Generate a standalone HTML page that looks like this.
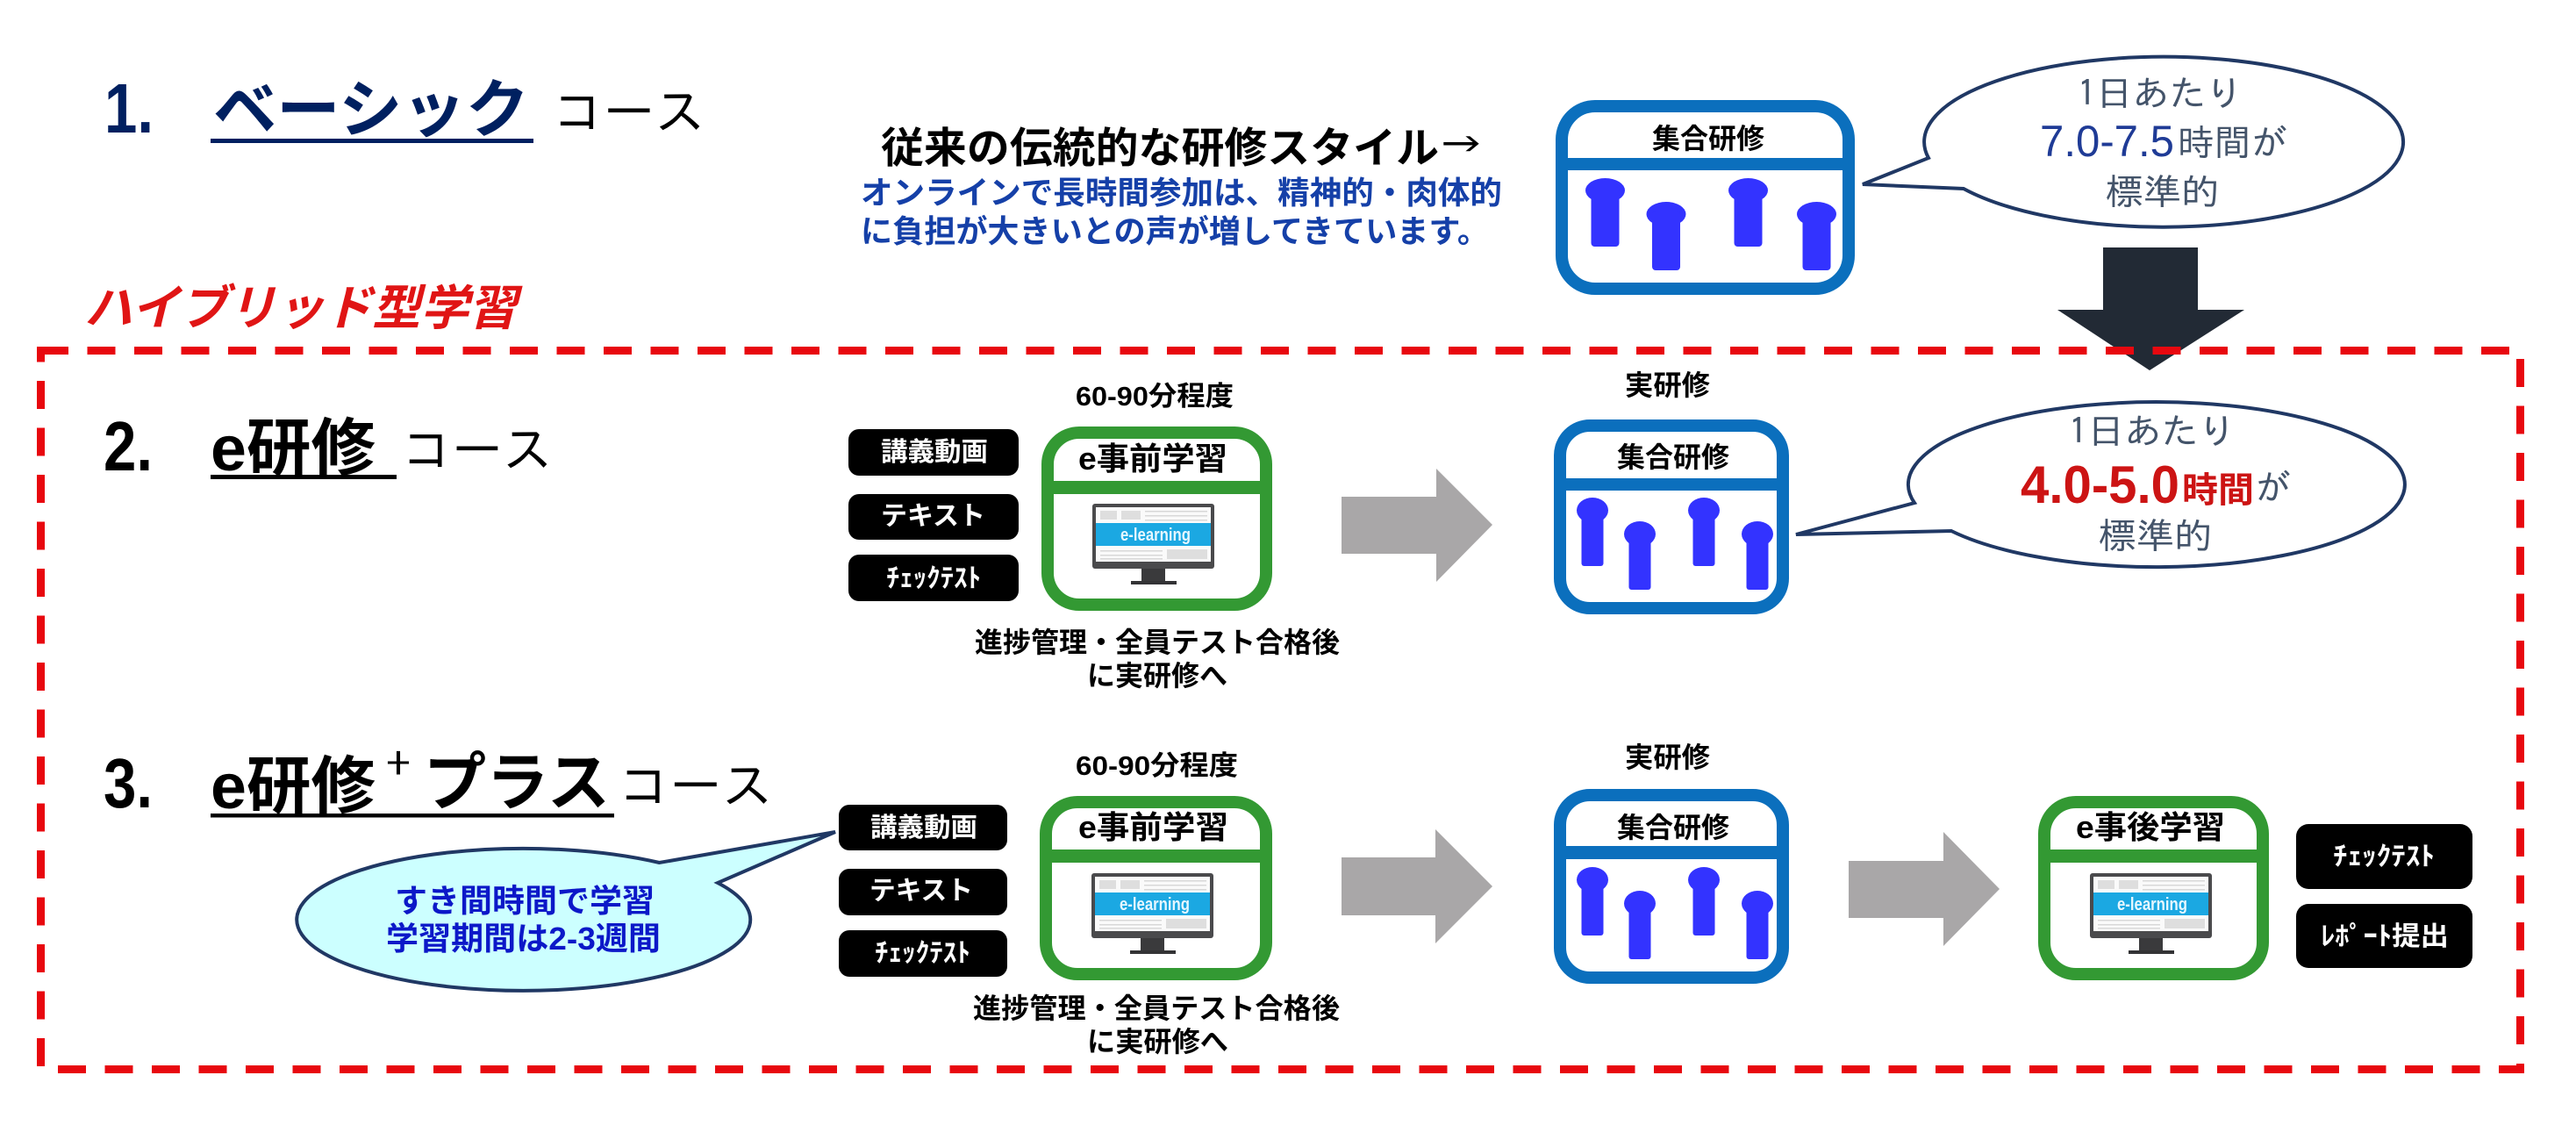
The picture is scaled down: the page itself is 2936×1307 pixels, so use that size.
<!DOCTYPE html>
<html lang="ja">
<head>
<meta charset="utf-8">
<title>コース</title>
<style>
html,body{margin:0;padding:0;background:#fff;width:2936px;height:1307px;overflow:hidden}
svg{display:block}
text{font-family:"Liberation Sans","Noto Sans CJK JP",sans-serif;font-weight:700;white-space:pre}
.thin{font-family:"IPAGothic","Noto Sans CJK JP",sans-serif;font-weight:400}
.lat{font-family:"Liberation Sans",sans-serif;font-weight:400}
.w{fill:#fff}
</style>
</head>
<body>
<svg xmlns="http://www.w3.org/2000/svg" width="2936" height="1307" viewBox="0 0 2936 1307">
<defs>
<g id="p1"><ellipse cx="22.500" cy="14" rx="22.500" ry="14" fill="#3333ff"/><rect x="6.500" y="10" width="32" height="68" rx="4" fill="#3333ff"/></g>
<g id="p2"><ellipse cx="18" cy="14.500" rx="18" ry="14.500" fill="#3333ff"/><rect x="5.500" y="10" width="25" height="68" rx="3" fill="#3333ff"/></g>
<g id="mon">
<rect x="0" y="0" width="139" height="74" rx="3" fill="#4a4a4c"/>
<rect x="4" y="4" width="131" height="62" fill="#fafafa"/>
<rect x="9" y="8" width="19" height="10" fill="#dedede"/><rect x="33" y="8" width="22" height="10" fill="#dedede"/>
<rect x="60" y="8" width="71" height="1.500" fill="#d8d8d8"/><rect x="60" y="13" width="71" height="1.500" fill="#d8d8d8"/><rect x="60" y="18" width="71" height="1.500" fill="#d8d8d8"/>
<rect x="4" y="22" width="131" height="26" fill="#1ba8e2"/>
<rect x="9" y="53" width="71" height="1.500" fill="#d8d8d8"/><rect x="9" y="58" width="71" height="1.500" fill="#d8d8d8"/><rect x="9" y="62" width="71" height="1.500" fill="#d8d8d8"/>
<rect x="85" y="52" width="46" height="11" fill="#dedede"/>
<rect x="56" y="74" width="27" height="14" fill="#3a3a3c"/><rect x="44" y="88" width="52" height="4" fill="#333335"/>
</g>
</defs>

<!-- headings -->
<text x="119" y="151" font-size="80" fill="#002060" textLength="56" lengthAdjust="spacingAndGlyphs">1.</text>
<text x="243" y="150" font-size="72" fill="#002060" textLength="360" lengthAdjust="spacingAndGlyphs">ベーシック</text>
<rect x="240" y="158" width="368" height="5" fill="#002060"/>
<text class="thin" x="630" y="148" font-size="58" fill="#000" textLength="174" lengthAdjust="spacingAndGlyphs">コース</text>

<text x="96" y="370" font-size="55" font-style="italic" fill="#e01515" textLength="493" lengthAdjust="spacingAndGlyphs">ハイブリッド型学習</text>

<text x="118" y="536" font-size="80" fill="#000" textLength="56" lengthAdjust="spacingAndGlyphs">2.</text>
<text x="240" y="536" font-size="72" fill="#000" textLength="188" lengthAdjust="spacingAndGlyphs">e研修</text>
<rect x="240" y="541" width="212" height="5" fill="#000"/>
<text class="thin" x="458" y="533" font-size="58" fill="#000" textLength="172" lengthAdjust="spacingAndGlyphs">コース</text>

<text x="118" y="920" font-size="80" fill="#000" textLength="56" lengthAdjust="spacingAndGlyphs">3.</text>
<text x="240" y="921" font-size="72" fill="#000" textLength="188" lengthAdjust="spacingAndGlyphs">e研修</text>
<text class="thin" x="439" y="886" font-size="44" fill="#000" textLength="30" lengthAdjust="spacingAndGlyphs">+</text>
<text x="483" y="917" font-size="72" fill="#000" textLength="212" lengthAdjust="spacingAndGlyphs">プラス</text>
<rect x="240" y="927" width="460" height="4.500" fill="#000"/>
<text class="thin" x="705" y="916" font-size="58" fill="#000" textLength="176" lengthAdjust="spacingAndGlyphs">コース</text>

<!-- intro text -->
<text x="1004" y="185" font-size="48" fill="#000" textLength="636" lengthAdjust="spacingAndGlyphs">従来の伝統的な研修スタイル</text>
<text class="thin" x="1642" y="182" font-size="48" fill="#000" textLength="46" lengthAdjust="spacingAndGlyphs">→</text>
<text x="981" y="232" font-size="36" fill="#1540a8" textLength="731" lengthAdjust="spacingAndGlyphs">オンラインで長時間参加は、精神的・肉体的</text>
<text x="981" y="276" font-size="36" fill="#1540a8" textLength="716" lengthAdjust="spacingAndGlyphs">に負担が大きいとの声が増してきています。</text>

<!-- Box 1 -->
<rect x="1780" y="121" width="327" height="208" rx="38" fill="#fff" stroke="#0b6fbd" stroke-width="14"/>
<rect x="1773" y="180" width="341" height="14" fill="#0b6fbd"/>
<text x="1883" y="169" font-size="32" fill="#000" textLength="128" lengthAdjust="spacingAndGlyphs">集合研修</text>
<use href="#p1" x="1807" y="203"/><use href="#p1" x="1970" y="203"/>
<use href="#p1" x="1876.500" y="230"/><use href="#p1" x="2048" y="230"/>

<!-- Bubble 1 -->
<path d="M2198,180 A273,97 0 1 1 2238,215 L2123,210 Z" fill="#fff" stroke="#203864" stroke-width="4" stroke-linejoin="miter"/>
<text class="thin" x="2368" y="121" font-size="41" fill="#44546a" textLength="188" lengthAdjust="spacingAndGlyphs">1日あたり</text>
<text class="lat" x="2325" y="178" font-size="50" fill="#1f3b96" textLength="153" lengthAdjust="spacingAndGlyphs">7.0-7.5</text>
<text class="thin" x="2482" y="177" font-size="41" fill="#44546a" textLength="125" lengthAdjust="spacingAndGlyphs">時間が</text>
<text class="thin" x="2400" y="233" font-size="41" fill="#44546a" textLength="129" lengthAdjust="spacingAndGlyphs">標準的</text>

<!-- Down arrow -->
<path d="M2397,282 H2505 V353 H2558 L2450,422 L2345,353 H2397 Z" fill="#222a35"/>

<!-- Row 2 -->
<text x="1226" y="462" font-size="31" fill="#000" textLength="180" lengthAdjust="spacingAndGlyphs">60-90分程度</text>
<rect x="967" y="489" width="194" height="53" rx="12" fill="#000"/>
<rect x="967" y="563" width="194" height="52" rx="12" fill="#000"/>
<rect x="967" y="632" width="194" height="53" rx="12" fill="#000"/>
<text class="w" x="1004" y="525" font-size="30" textLength="122" lengthAdjust="spacingAndGlyphs">講義動画</text>
<text class="w" x="1004" y="598" font-size="30" textLength="119" lengthAdjust="spacingAndGlyphs">テキスト</text>
<text class="w" x="1010" y="669" font-size="30" textLength="108" lengthAdjust="spacingAndGlyphs">ﾁｪｯｸﾃｽﾄ</text>

<rect x="1194" y="493" width="249" height="196" rx="36" fill="#fff" stroke="#339933" stroke-width="14"/>
<rect x="1187" y="548" width="263" height="15" fill="#339933"/>
<text x="1229" y="535" font-size="36" fill="#000" textLength="170" lengthAdjust="spacingAndGlyphs">e事前学習</text>
<use href="#mon" x="1245" y="574"/>
<text x="1277" y="616" font-size="20" fill="#e6f7ff" textLength="80" lengthAdjust="spacingAndGlyphs">e-learning</text>
<text x="1111" y="743" font-size="32" fill="#000" textLength="416" lengthAdjust="spacingAndGlyphs">進捗管理・全員テスト合格後</text>
<text x="1239" y="781" font-size="32" fill="#000" textLength="160" lengthAdjust="spacingAndGlyphs">に実研修へ</text>

<path d="M1529,566 H1637 V534 L1701,598 L1637,663 V631 H1529 Z" fill="#a9a7a8"/>

<text x="1852" y="450" font-size="32" fill="#000" textLength="97" lengthAdjust="spacingAndGlyphs">実研修</text>
<rect x="1778" y="485" width="254" height="208" rx="34" fill="#fff" stroke="#0b6fbd" stroke-width="14"/>
<rect x="1771" y="545" width="268" height="14" fill="#0b6fbd"/>
<text x="1843" y="532" font-size="32" fill="#000" textLength="128" lengthAdjust="spacingAndGlyphs">集合研修</text>
<use href="#p2" x="1797" y="567"/><use href="#p2" x="1924" y="567"/>
<use href="#p2" x="1851" y="594"/><use href="#p2" x="1985" y="594"/>

<path d="M2182,573 A283,94 0 1 1 2224,605 L2047,609 Z" fill="#fff" stroke="#203864" stroke-width="4"/>
<text class="thin" x="2358" y="506" font-size="41" fill="#44546a" textLength="190" lengthAdjust="spacingAndGlyphs">1日あたり</text>
<text x="2303" y="573" font-size="60" fill="#cc1414" textLength="181" lengthAdjust="spacingAndGlyphs">4.0-5.0</text>
<text x="2487" y="572" font-size="40" fill="#cc1414" textLength="82" lengthAdjust="spacingAndGlyphs">時間</text>
<text class="thin" x="2570" y="570" font-size="41" fill="#44546a">が</text>
<text class="thin" x="2392" y="625" font-size="41" fill="#44546a" textLength="129" lengthAdjust="spacingAndGlyphs">標準的</text>

<!-- Row 3 -->
<text x="1226" y="883" font-size="31" fill="#000" textLength="185" lengthAdjust="spacingAndGlyphs">60-90分程度</text>
<path d="M751.500,983 A258.500,81 0 1 0 818,1006 L952,948 Z" fill="#ccffff" stroke="#203864" stroke-width="4"/>
<text x="450" y="1039" font-size="36.500" fill="#0c18c8" textLength="296" lengthAdjust="spacingAndGlyphs">すき間時間で学習</text>
<text x="440" y="1082" font-size="36.500" fill="#0c18c8" textLength="313" lengthAdjust="spacingAndGlyphs">学習期間は2-3週間</text>

<rect x="956" y="917" width="192" height="52" rx="12" fill="#000"/>
<rect x="956" y="990" width="192" height="53" rx="12" fill="#000"/>
<rect x="956" y="1060" width="192" height="53" rx="12" fill="#000"/>
<text class="w" x="992" y="953" font-size="30" textLength="122" lengthAdjust="spacingAndGlyphs">講義動画</text>
<text class="w" x="991" y="1025" font-size="30" textLength="118" lengthAdjust="spacingAndGlyphs">テキスト</text>
<text class="w" x="997" y="1096" font-size="30" textLength="109" lengthAdjust="spacingAndGlyphs">ﾁｪｯｸﾃｽﾄ</text>

<rect x="1192" y="914" width="251" height="196" rx="36" fill="#fff" stroke="#339933" stroke-width="14"/>
<rect x="1185" y="968" width="265" height="15" fill="#339933"/>
<text x="1229" y="955" font-size="36" fill="#000" textLength="171" lengthAdjust="spacingAndGlyphs">e事前学習</text>
<use href="#mon" x="1244" y="995"/>
<text x="1276" y="1037" font-size="20" fill="#e6f7ff" textLength="80" lengthAdjust="spacingAndGlyphs">e-learning</text>
<text x="1109" y="1160" font-size="32" fill="#000" textLength="418" lengthAdjust="spacingAndGlyphs">進捗管理・全員テスト合格後</text>
<text x="1239" y="1198" font-size="32" fill="#000" textLength="161" lengthAdjust="spacingAndGlyphs">に実研修へ</text>

<path d="M1529,977 H1636 V945 L1701,1010 L1636,1075 V1043 H1529 Z" fill="#a9a7a8"/>

<text x="1852" y="874" font-size="32" fill="#000" textLength="97" lengthAdjust="spacingAndGlyphs">実研修</text>
<rect x="1778" y="906" width="254" height="208" rx="34" fill="#fff" stroke="#0b6fbd" stroke-width="14"/>
<rect x="1771" y="964" width="268" height="15" fill="#0b6fbd"/>
<text x="1843" y="954" font-size="32" fill="#000" textLength="128" lengthAdjust="spacingAndGlyphs">集合研修</text>
<use href="#p2" x="1797" y="988"/><use href="#p2" x="1924" y="988"/>
<use href="#p2" x="1851" y="1015"/><use href="#p2" x="1985" y="1015"/>

<path d="M2107,981 H2215 V948 L2279,1013 L2215,1078 V1046 H2107 Z" fill="#a9a7a8"/>

<rect x="2330" y="914" width="249" height="196" rx="36" fill="#fff" stroke="#339933" stroke-width="14"/>
<rect x="2323" y="968" width="263" height="15" fill="#339933"/>
<text x="2366" y="955" font-size="36" fill="#000" textLength="170" lengthAdjust="spacingAndGlyphs">e事後学習</text>
<use href="#mon" x="2382" y="995"/>
<text x="2413" y="1037" font-size="20" fill="#e6f7ff" textLength="80" lengthAdjust="spacingAndGlyphs">e-learning</text>

<rect x="2617" y="939" width="201" height="74" rx="14" fill="#000"/>
<rect x="2617" y="1030" width="201" height="73" rx="14" fill="#000"/>
<text class="w" x="2659" y="986" font-size="30" textLength="116" lengthAdjust="spacingAndGlyphs">ﾁｪｯｸﾃｽﾄ</text>
<text class="w" x="2645" y="1077" font-size="30" textLength="146" lengthAdjust="spacingAndGlyphs">ﾚﾎﾟｰﾄ提出</text>

<!-- Dashed hybrid frame -->
<g fill="none" stroke="#e8080f" stroke-width="9">
<line x1="42" y1="399.500" x2="2860" y2="399.500" stroke-dasharray="32 21.500" stroke-dashoffset="-4"/>
<line x1="46.500" y1="395" x2="46.500" y2="1216" stroke-dasharray="32 21.500" stroke-dashoffset="14.500"/>
<line x1="2872.500" y1="409" x2="2872.500" y2="1190" stroke-dasharray="32 21.500"/>
<line x1="66" y1="1218.500" x2="2877" y2="1218.500" stroke-dasharray="32 21.500"/>
<line x1="2872.500" y1="1212" x2="2872.500" y2="1223"/>
</g>
</svg>
</body>
</html>
